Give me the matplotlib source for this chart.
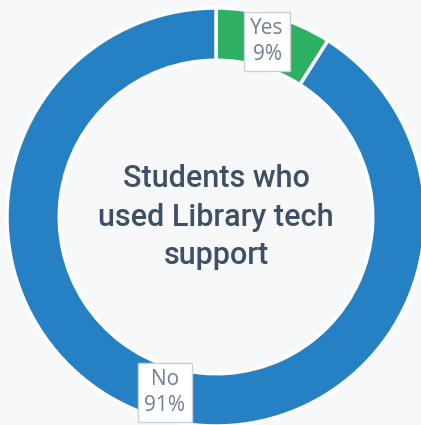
import matplotlib.pyplot as plt
import numpy as np

# Data
labels = ["Yes", "No"]
values = [9, 91]
colors = ["#2eb062", "#2581c4"]
center_title = "Students who\nused Library tech\nsupport"

BG = "#f7f8fa"
RING_WIDTH = 0.25

fig = plt.figure(figsize=(4.21, 4.25), dpi=100, facecolor=BG)
ax = fig.add_axes([0, 0, 1, 1])
ax.set_facecolor(BG)

wedges, _ = ax.pie(
    values,
    colors=colors,
    startangle=90,
    counterclock=False,
    radius=1.0,
    wedgeprops=dict(width=RING_WIDTH, edgecolor="white", linewidth=2.5),
)

# Labels on the middle of the ring
mid_r = 1.0 - RING_WIDTH / 2
for w, lab, val in zip(wedges, labels, values):
    ang = np.deg2rad((w.theta1 + w.theta2) / 2)
    x, y = mid_r * np.cos(ang), mid_r * np.sin(ang)
    ax.text(
        x, y, f"{lab}\n{val}%",
        ha="center", va="center",
        fontsize=15, color="#6e7f96", family="Open Sans",
        linespacing=1.3,
        bbox=dict(boxstyle="square,pad=0.3", facecolor="white",
                  edgecolor="#c9d1dc", linewidth=1),
    )

ax.text(
    0, 0.0, center_title,
    ha="center", va="center",
    fontsize=22, color="#3f4f66", family="Roboto", fontweight="medium",
    linespacing=1.42,
)

ax.set_aspect("equal")
ax.set_xlim(-216 / 209, 205 / 209)
ax.set_ylim(-208 / 209, 217 / 209)
ax.axis("off")

plt.savefig("out.png", dpi=100, facecolor=BG)
